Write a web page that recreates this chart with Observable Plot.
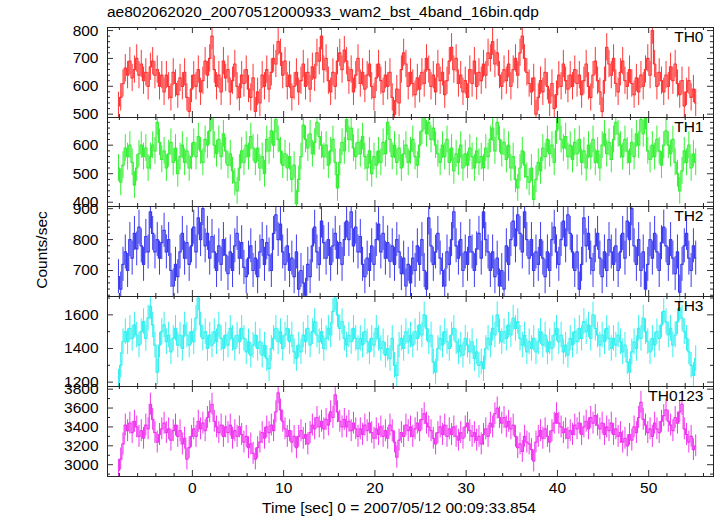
<!DOCTYPE html>
<html><head><meta charset="utf-8">
<script src="https://cdn.jsdelivr.net/npm/d3@7"></script>
<script src="https://cdn.jsdelivr.net/npm/@observablehq/plot@0.6"></script>
<style>
body{margin:0;background:#fff;}
#chart{position:relative;width:717px;height:516px;font-family:"Liberation Sans",Arial,sans-serif;overflow:hidden;}
.t{position:absolute;font-size:15.5px;color:#000;white-space:nowrap;line-height:1;}
svg{overflow:visible;}
</style></head><body>
<div id="chart"></div>
<script>
const titleText = "ae802062020_20070512000933_wam2_bst_4band_16bin.qdp";
const xLabelText = "Time [sec] 0 = 2007/05/12 00:09:33.854";
const yLabelText = "Counts/sec";
const panelNames = ["TH0", "TH1", "TH2", "TH3", "TH0123"];
const panelColors = ["#ff3535", "#35f035", "#3a3af0", "#35f0f0", "#f035f0"];
const binStart = -8.1, binWidth = 0.25;
const errBars = [49, 47, 55, 76, 116];
const xLabelTicks = [0, 10, 20, 30, 40, 50];
const yLabelTicks = [[500, 600, 700, 800], [400, 500, 600], [700, 800, 900], [1200, 1400, 1600], [3000, 3200, 3400, 3600, 3800]];

const th0 = [
530,560,610,665,640,690,630,660,700,640,680,620,650,600,670,690,640,660,600,640,
580,640,600,560,650,610,570,630,600,650,560,510,590,640,600,660,580,620,690,640,
700,780,660,600,640,580,690,630,660,580,620,680,600,560,640,610,660,590,560,630,
510,580,540,640,600,660,590,650,700,680,760,720,640,690,600,640,560,600,650,580,
620,680,600,650,590,670,630,720,690,780,660,700,620,580,650,600,690,720,660,730,
690,620,660,580,640,700,610,650,590,640,680,600,560,630,680,620,580,640,600,650,
560,500,590,540,660,720,680,600,650,610,570,630,590,650,610,700,660,600,640,580,
680,620,650,570,620,690,740,660,700,610,640,580,620,560,660,610,690,600,650,620,
680,640,720,700,760,680,720,640,600,660,620,680,600,660,700,640,720,780,700,650,
610,580,630,500,560,620,580,650,600,540,610,520,570,640,600,680,620,590,640,600,
660,610,640,570,620,680,600,560,640,690,620,580,510,620,740,680,640,700,610,580,
650,690,620,600,660,610,570,630,580,640,600,660,700,640,800,680,600,650,620,580,
640,600,670,620,680,610,570,620,530,580,620,560,590,540];
const th1 = [
520,470,530,590,560,600,540,460,520,570,600,560,590,520,560,600,580,680,610,550,
580,520,570,610,540,590,500,560,600,540,580,520,560,610,560,630,580,540,620,600,
650,700,600,570,620,560,640,580,530,570,510,470,440,520,580,540,600,560,630,590,
540,590,520,560,500,620,580,650,600,690,620,580,530,570,520,560,480,530,395,480,
560,670,620,590,640,570,610,680,630,600,560,600,530,580,620,540,450,540,610,580,
690,620,660,590,560,610,570,630,560,520,580,500,560,530,580,540,610,570,680,620,
560,600,540,590,520,570,600,540,580,620,560,530,600,650,700,640,680,620,660,600,
570,540,600,560,620,540,590,510,570,540,600,520,570,530,590,560,520,580,540,560,
520,590,560,620,660,580,680,620,570,610,550,600,520,560,480,450,520,580,530,490,
470,520,410,480,540,510,590,560,620,570,600,540,650,700,620,590,630,560,600,550,
610,570,620,540,580,520,600,560,620,540,580,520,600,640,570,610,550,620,680,640,
600,560,620,580,540,610,560,640,600,690,640,700,580,550,600,560,620,580,530,600,
650,600,570,620,540,500,440,510,580,540,600,520,570,540];
const th2 = [
680,640,720,760,700,800,740,820,770,840,780,720,810,760,890,820,760,800,740,790,
830,760,800,700,650,720,680,760,820,740,790,720,780,840,760,870,800,900,780,820,
740,810,760,700,780,720,800,750,690,760,700,780,820,740,790,710,680,740,780,700,
740,680,760,800,720,790,750,700,820,880,800,850,760,720,780,700,740,680,760,640,
700,660,620,720,680,780,840,760,720,860,790,740,800,720,780,820,740,790,720,800,
860,800,890,780,840,760,810,720,680,740,700,780,720,800,850,760,820,740,790,730,
780,720,800,760,690,740,650,720,660,740,700,780,720,800,700,640,870,780,720,760,
820,740,700,650,760,720,800,890,780,740,800,700,760,720,810,760,700,770,820,740,
890,800,760,700,760,680,740,650,700,640,780,720,800,860,780,880,820,760,890,800,
740,800,700,760,720,800,740,680,760,700,800,840,760,720,800,860,780,880,820,760,
700,760,640,720,870,780,820,740,700,780,820,740,680,760,700,800,760,720,780,700,
760,820,740,860,800,900,780,720,800,700,760,640,720,800,740,820,760,700,790,840,
780,720,800,740,690,760,630,720,780,820,740,700,780,740];
const th3 = [
1200,1300,1440,1500,1440,1520,1460,1540,1480,1420,1500,1560,1460,1580,1650,1540,1420,1260,1420,1500,
1540,1440,1480,1380,1460,1520,1420,1480,1400,1540,1480,1420,1500,1440,1580,1700,1540,1460,1500,1400,
1480,1420,1500,1440,1540,1460,1400,1480,1420,1520,1460,1400,1480,1440,1520,1460,1380,1440,1360,1420,
1480,1400,1440,1360,1420,1340,1280,1400,1460,1520,1440,1500,1400,1480,1520,1440,1480,1380,1340,1420,
1380,1480,1440,1520,1420,1500,1560,1480,1440,1500,1400,1460,1520,1480,1620,1700,1600,1520,1560,1460,
1420,1480,1440,1520,1460,1400,1460,1420,1500,1440,1380,1460,1420,1520,1460,1400,1440,1360,1400,1340,
1460,1300,1240,1420,1460,1400,1500,1440,1480,1420,1500,1460,1540,1480,1600,1520,1440,1480,1320,1260,
1400,1460,1420,1500,1440,1400,1480,1520,1440,1380,1420,1360,1460,1420,1380,1440,1340,1380,1300,1320,
1280,1400,1460,1420,1520,1480,1600,1500,1440,1500,1460,1540,1480,1580,1520,1560,1460,1420,1480,1380,
1440,1400,1460,1380,1440,1500,1420,1480,1380,1440,1400,1480,1520,1440,1480,1380,1420,1360,1460,1420,
1500,1440,1520,1460,1560,1500,1540,1460,1600,1520,1480,1420,1480,1440,1520,1460,1400,1460,1420,1480,
1440,1380,1420,1320,1260,1380,1440,1400,1520,1460,1580,1500,1440,1380,1460,1420,1500,1460,1540,1620,
1560,1480,1520,1420,1480,1560,1640,1580,1500,1460,1380,1300,1240,1340];
const th0123 = [
2940,3060,3220,3420,3360,3440,3340,3460,3400,3300,3360,3280,3420,3380,3640,3480,3340,3240,3320,3380,
3440,3340,3380,3260,3360,3420,3300,3360,3220,3280,3060,3180,3300,3380,3300,3460,3380,3440,3360,3500,
3560,3640,3460,3400,3340,3420,3300,3400,3340,3420,3280,3360,3300,3400,3320,3240,3300,3180,3220,3120,
3060,3180,3240,3340,3280,3400,3340,3420,3360,3560,3760,3580,3460,3380,3300,3360,3240,3300,3180,3300,
3360,3280,3320,3220,3340,3420,3380,3500,3400,3460,3380,3480,3420,3560,3500,3740,3560,3460,3400,3480,
3400,3460,3360,3440,3380,3300,3380,3320,3420,3360,3440,3340,3280,3380,3320,3400,3300,3360,3280,3420,
3360,3240,3080,3260,3340,3300,3420,3360,3400,3300,3380,3440,3360,3480,3540,3440,3400,3360,3280,3220,
3340,3400,3320,3420,3300,3380,3320,3400,3300,3260,3340,3280,3400,3440,3360,3300,3340,3260,3300,3220,
3320,3380,3300,3440,3400,3540,3600,3500,3440,3500,3400,3460,3380,3420,3300,3180,3220,3140,3300,3240,
3220,3160,3040,3240,3300,3360,3280,3380,3300,3240,3360,3440,3540,3440,3400,3340,3380,3280,3360,3320,
3420,3380,3440,3320,3400,3460,3380,3500,3440,3520,3420,3380,3440,3320,3400,3360,3440,3320,3380,3300,
3340,3240,3280,3200,3320,3260,3400,3340,3500,3660,3480,3420,3340,3380,3300,3440,3380,3340,3460,3520,
3580,3460,3420,3360,3500,3440,3560,3640,3380,3320,3240,3300,3160,3200];

const series = [th0, th1, th2, th3, th0123];

// layout (not data)
const W = 717, ML = 107, MR = 4;
const panelTops = [27, 117, 206, 296, 386, 476];
const xDomain = [-9.3, 57.1];
const yDomains = [[488, 811], [385, 697], [616, 907], [1174, 1709], [2875, 3828]];
const yMinorStep = [20, 20, 20, 100, 100];
const FONT = "'Liberation Sans', Arial, sans-serif";
const FS = 15.5;

const chart = document.getElementById("chart");
function addText(txt, css) {
  const d = document.createElement("div");
  d.className = "t";
  d.textContent = txt;
  Object.assign(d.style, css);
  chart.appendChild(d);
  return d;
}

const xMajor = d3.range(0, 51, 10);
const xMinor = d3.range(-8, 57, 2).filter(v => v % 10 !== 0);
const innerW = W - ML - MR;

series.forEach((vals, k) => {
  const top = panelTops[k];
  const h = panelTops[k + 1] - top;
  const last = k === series.length - 1;
  const mb = last ? 40 : 1;
  const err = errBars[k];
  const rows = vals.map((v, i) => ({t: binStart + i * binWidth, v, lo: v - err, hi: v + err}));
  const [y0, y1] = yDomains[k];
  const step = yMinorStep[k];
  const yMin = d3.range(Math.ceil(y0 / step) * step, y1 + 1e-9, step).filter(v => !yLabelTicks[k].includes(v));
  const col = panelColors[k];
  const marks = [
    Plot.ruleX(rows, {x: "t", y1: "lo", y2: "hi", stroke: col, strokeWidth: 1, clip: true}),
    Plot.line(rows, {x: "t", y: "v", curve: "step", stroke: col, strokeWidth: 1.2, clip: true}),
    Plot.tickX(xMajor, {x: d => d, insetTop: h - 6, stroke: "#333"}),
    Plot.tickX(xMajor, {x: d => d, insetBottom: h - 6, stroke: "#333"}),
    Plot.tickX(xMinor, {x: d => d, insetTop: h - 3, stroke: "#222"}),
    Plot.tickX(xMinor, {x: d => d, insetBottom: h - 3, stroke: "#222"}),
    Plot.tickY(yLabelTicks[k], {y: d => d, insetRight: innerW - 6, stroke: "#333"}),
    Plot.tickY(yLabelTicks[k], {y: d => d, insetLeft: innerW - 6, stroke: "#333"}),
    Plot.tickY(yMin, {y: d => d, insetRight: innerW - 3, stroke: "#222"}),
    Plot.tickY(yMin, {y: d => d, insetLeft: innerW - 3, stroke: "#222"}),
    Plot.frame({stroke: "#222"}),
    Plot.axisY(yLabelTicks[k], {tickSize: 0, tickPadding: 9, label: null, fontSize: FS, tickFormat: d3.format("d")}),
    Plot.text([panelNames[k]], {text: d => d, frameAnchor: "top-right", dx: -10, dy: 3, lineAnchor: "top", fontSize: FS, fill: "#000"})
  ];
  if (last) marks.push(Plot.axisX(xLabelTicks, {tickSize: 0, tickPadding: 5, label: null, fontSize: FS, tickFormat: d3.format("d")}));
  const plot = Plot.plot({
    width: W,
    height: h + 1 + mb,
    marginLeft: ML,
    marginRight: MR,
    marginTop: 1,
    marginBottom: mb,
    x: last ? {domain: xDomain} : {domain: xDomain, axis: null},
    y: {domain: yDomains[k]},
    style: {fontFamily: FONT, fontSize: FS + "px", background: "transparent", color: "#000"},
    marks
  });
  plot.style.position = "absolute";
  plot.style.left = "0px";
  plot.style.top = (top - 1) + "px";
  chart.appendChild(plot);
});

addText(titleText, {left: "107px", top: "4px"});
addText(xLabelText, {left: "399px", top: "500px", transform: "translateX(-50%)"});
addText(yLabelText, {left: "42px", top: "250px", transform: "translate(-50%,-50%) rotate(-90deg)"});
</script>
</body></html>
